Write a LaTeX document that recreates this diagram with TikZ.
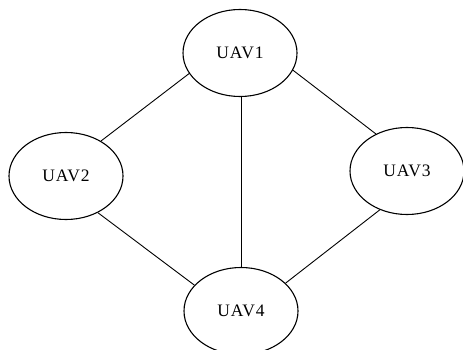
\documentclass[tikz,border=0pt]{standalone}
\usepackage{fontspec}
\setmainfont{Liberation Serif}[LetterSpace=5]
\usetikzlibrary{shapes.geometric}
\begin{document}
\begin{tikzpicture}[x=1pt,y=-1pt,
  uav/.style={draw, line width=1.1pt, ellipse, inner sep=0pt,
    minimum width=114pt, minimum height=87pt,
    font=\fontsize{17.5}{20}\selectfont},
  link/.style={line width=0.9pt}]
  \clip (0,0) rectangle (463,350);
  \fill[white] (0,0) rectangle (463,350);
  % four UAV nodes
  \node[uav] (u1) at (240,53)  {UAV1};
  \node[uav] (u2) at (66,176)  {UAV2};
  \node[uav] (u3) at (407,171) {UAV3};
  \node[uav] (u4) at (241,311) {UAV4};
  % communication links
  \draw[link] (u1.202) -- (u2.45);
  \draw[link] (u1.342) -- (u3.130);
  \draw[link] (u1.south -| u4.north) -- (u4.north);
  \draw[link] (u2.311) -- (u4.151);
  \draw[link] (u3.235) -- (u4.32);
\end{tikzpicture}
\end{document}
